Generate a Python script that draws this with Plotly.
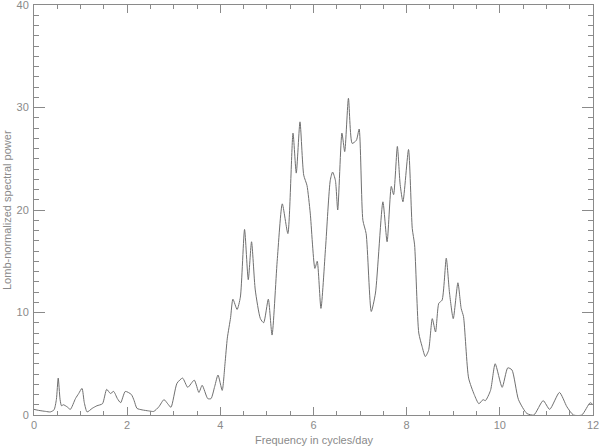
"""Lomb periodogram, IDL-style plot, recreated with Plotly."""

import plotly.graph_objects as go

# values
freq = [
    0.00, 0.10, 0.25, 0.35, 0.43, 0.48, 0.52, 0.56, 0.59, 0.63, 0.71, 0.78,
    0.89, 0.96, 1.03, 1.08, 1.14, 1.25, 1.35, 1.47, 1.56, 1.64, 1.71, 1.79,
    1.86, 1.96, 2.09, 2.15, 2.21, 2.32, 2.46, 2.57, 2.68, 2.79, 2.87, 2.94,
    3.07, 3.19, 3.30, 3.44, 3.54, 3.61, 3.73, 3.80, 3.88, 3.95, 4.04, 4.10,
    4.15, 4.22, 4.27, 4.36, 4.43, 4.52, 4.60, 4.67, 4.75, 4.86, 4.93, 5.03,
    5.11, 5.22, 5.33, 5.45, 5.56, 5.63, 5.71, 5.79, 5.86, 5.93, 6.03, 6.08,
    6.16, 6.26, 6.36, 6.41, 6.47, 6.52, 6.61, 6.67, 6.75, 6.83, 6.92, 6.98,
    7.06, 7.13, 7.24, 7.33, 7.49, 7.58, 7.67, 7.72, 7.80, 7.86, 7.92, 8.04,
    8.12, 8.17, 8.26, 8.33, 8.40, 8.47, 8.55, 8.62, 8.69, 8.76, 8.85, 8.92,
    9.00, 9.10, 9.17, 9.22, 9.33, 9.45, 9.55, 9.64, 9.69, 9.80, 9.90, 10.05,
    10.17, 10.26, 10.40, 10.58, 10.73, 10.93, 11.07, 11.28, 11.44, 11.58,
    11.76, 11.94, 12.00,
]
power = [
    0.55, 0.45, 0.35, 0.30, 0.50, 1.5, 3.6, 1.5, 0.9, 1.0, 0.8, 0.55,
    1.6, 2.1, 2.6, 1.2, 0.3, 0.65, 0.9, 1.1, 2.5, 2.1, 2.3, 1.6,
    1.2, 2.3, 2.0, 1.4, 0.65, 0.5, 0.4, 0.35, 0.8, 1.5, 1.1, 0.75,
    3.1, 3.6, 2.7, 3.4, 2.2, 2.9, 1.6, 1.6, 2.8, 3.9, 2.4, 5.0,
    7.5, 9.5, 11.3, 10.3, 11.5, 18.1, 13.2, 16.9, 12.2, 9.4, 9.0, 11.3,
    7.8, 15.0, 20.6, 17.7, 27.5, 23.6, 28.6, 23.4, 22.4, 19.7, 14.3, 15.0,
    10.4, 16.4, 22.9, 23.7, 22.9, 20.0, 27.5, 25.7, 30.9, 26.5, 26.8, 27.9,
    19.0, 17.7, 10.1, 11.9, 20.8, 16.9, 22.3, 21.5, 26.2, 22.5, 20.8, 25.9,
    18.2, 16.6, 8.0, 6.7, 5.7, 6.3, 9.4, 8.1, 10.9, 11.2, 15.3, 11.9,
    9.4, 12.9, 10.4, 9.6, 3.6, 2.0, 1.1, 1.5, 1.4, 2.4, 5.0, 2.7,
    4.6, 4.4, 1.5, 0.15, 0.0, 1.4, 0.55, 2.2, 0.8, 0.0,
    0.0, 1.2, 1.0,
]

x_ticks = [0, 2, 4, 6, 8, 10, 12]
y_ticks = [0, 10, 20, 30, 40]

axis_col = "#8a8a8a"
text_font = dict(family="Liberation Sans", size=11, color="#8a8a8a")

fig = go.Figure()
fig.add_trace(go.Scatter(
    x=freq,
    y=power,
    mode="lines",
    line=dict(color="#707070", width=1, shape="spline", smoothing=0.6),
    hoverinfo="skip",
))

common_axis = dict(
    ticks="inside",
    tickcolor=axis_col,
    tickfont=text_font,
    ticklabeloverflow="allow",
    showline=True,
    linecolor=axis_col,
    linewidth=1,
    mirror="allticks",
    showgrid=False,
    zeroline=False,
    automargin=False,
)

fig.update_layout(
    width=600,
    height=446,
    margin=dict(l=34, r=7, t=5, b=31),
    paper_bgcolor="white",
    plot_bgcolor="white",
    showlegend=False,
    font=text_font,
    xaxis=dict(
        range=[0, 12],
        tickvals=x_ticks,
        ticklen=8,
        minor=dict(ticks="inside", ticklen=4, dtick=0.5, tickcolor=axis_col,
                   showgrid=False),
        **common_axis,
    ),
    yaxis=dict(
        range=[0, 40],
        tickvals=y_ticks,
        ticklen=11,
        ticklabelstandoff=2,
        minor=dict(ticks="inside", ticklen=5, dtick=1, tickcolor=axis_col,
                   showgrid=False),
        **common_axis,
    ),
    annotations=[
        dict(text="Frequency in cycles/day", xref="paper", yref="paper",
             x=0.5, y=0, yshift=-25, yanchor="middle", showarrow=False,
             font=text_font),
        dict(text="Lomb-normalized spectral power", xref="paper",
             yref="paper", x=0, y=0.5, xshift=-27, xanchor="center",
             textangle=-90, showarrow=False, font=text_font),
    ],
)

# drop the page's default body margin so the figure sits at the window origin
fig.write_html(
    "out.html",
    config={"displayModeBar": False},
    post_script="document.body.style.margin='0';",
)
